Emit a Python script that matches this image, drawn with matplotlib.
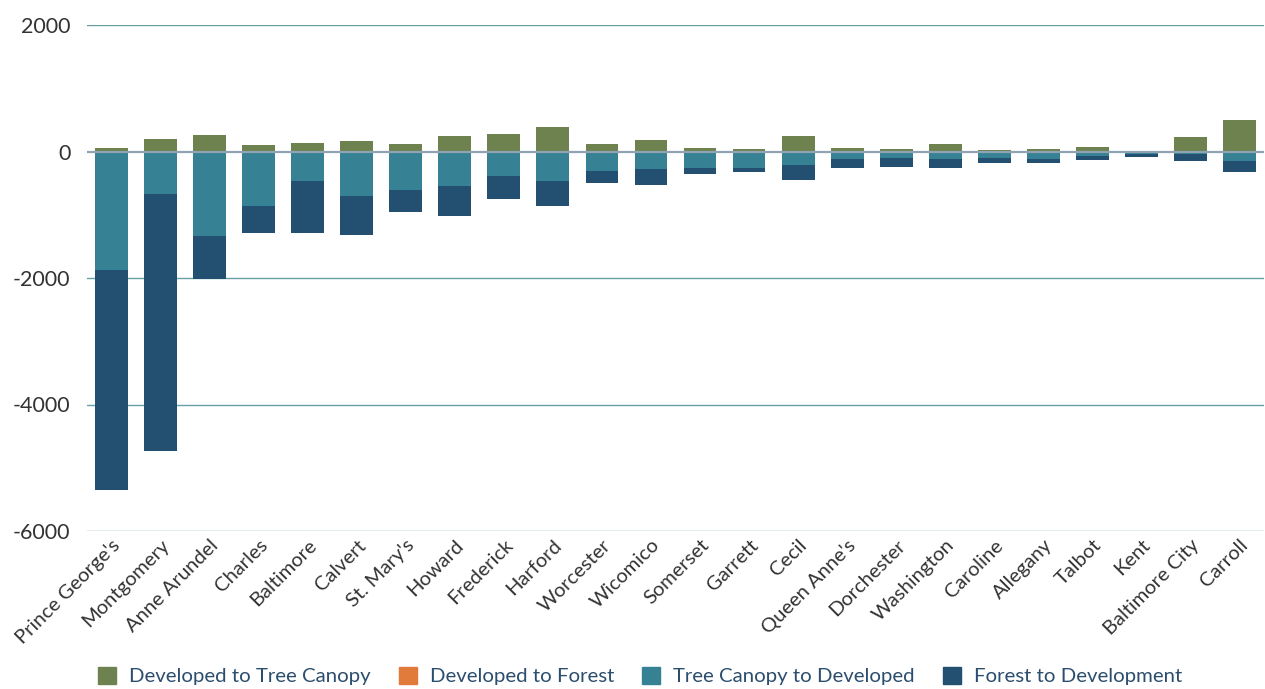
import matplotlib
matplotlib.use("Agg")
import matplotlib.pyplot as plt
import numpy as np
from matplotlib.patches import Patch

counties = ["Prince George's", "Montgomery", "Anne Arundel", "Charles", "Baltimore",
            "Calvert", "St. Mary's", "Howard", "Frederick", "Harford", "Worcester",
            "Wicomico", "Somerset", "Garrett", "Cecil", "Queen Anne's", "Dorchester",
            "Washington", "Caroline", "Allegany", "Talbot", "Kent", "Baltimore City", "Carroll"]

dev_to_canopy = [50, 192, 254, 98, 129, 161, 114, 240, 270, 382, 114, 177, 50, 37,
                 240, 52, 37, 122, 27, 43, 75, 11, 232, 500]
dev_to_forest = [8, 8, 8, 8, 8, 8, 8, 8, 8, 8, 8, 8, 8, 6,
                 8, 6, 6, 0, 0, 0, 0, 0, 0, 0]
canopy_to_dev = [-1870, -668, -1332, -858, -463, -700, -605, -542, -384, -463, -305, -273, -258, -258,
                 -210, -115, -100, -115, -100, -115, -68, -37, -37, -147]
forest_to_dev = [-3475, -4062, -680, -426, -821, -616, -348, -474, -363, -395, -190, -254, -95, -63,
                 -237, -143, -142, -143, -80, -65, -63, -47, -110, -174]

series_names = ["Developed to Tree Canopy", "Developed to Forest",
                "Tree Canopy to Developed", "Forest to Development"]
colors = ["#6e8250", "#e07b3c", "#378195", "#234f70"]

plt.rcParams['font.family'] = ['Lato', 'DejaVu Sans']

fig = plt.figure(figsize=(12.65, 6.89), dpi=100)
ax = fig.add_axes([87/1265, 1-531/689, (1264-87)/1265, (531-25)/689])

x = np.arange(len(counties))
w = 0.67
dtf = np.array(dev_to_forest, float)
dtc = np.array(dev_to_canopy, float)
ctd = np.array(canopy_to_dev, float)
ftd = np.array(forest_to_dev, float)

ax.bar(x, dtf, w, color=colors[1], zorder=3)
ax.bar(x, dtc, w, bottom=dtf, color=colors[0], zorder=3)
ax.bar(x, ctd, w, color=colors[2], zorder=3)
ax.bar(x, ftd, w, bottom=ctd, color=colors[3], zorder=3)

ax.set_xlim(-0.5, len(counties) - 0.5)
ax.set_ylim(-6000, 2000)
ax.set_yticks([-6000, -4000, -2000, 0, 2000])
ax.set_yticklabels(["-6000", "-4000", "-2000", "0", "2000"])
for yv in [-6000, -4000, -2000, 2000]:
    ax.axhline(yv, color="#6a9fa8", lw=1.0, zorder=1)
ax.axhline(0, color="#8fa3b3", lw=1.6, zorder=4)

for s in ax.spines.values():
    s.set_visible(False)
ax.tick_params(axis='y', length=0, pad=12, labelsize=15.5, labelcolor="#333333")
ax.tick_params(axis='x', length=0, pad=4, labelsize=14.5, labelcolor="#333333")
ax.set_xticks(x)
ax.set_xticklabels(counties, rotation=45, ha='right', rotation_mode='anchor')

handles = [Patch(color=c) for c in colors]
leg = fig.legend(handles, series_names, loc='center', bbox_to_anchor=(0.506, 1-676/689),
                 ncol=4, frameon=False, fontsize=14.65, handlelength=0.89, handleheight=0.89,
                 handletextpad=0.64, columnspacing=1.38)
for t in leg.get_texts():
    t.set_color("#2b4d6e")

fig.savefig("out.png", dpi=100)
